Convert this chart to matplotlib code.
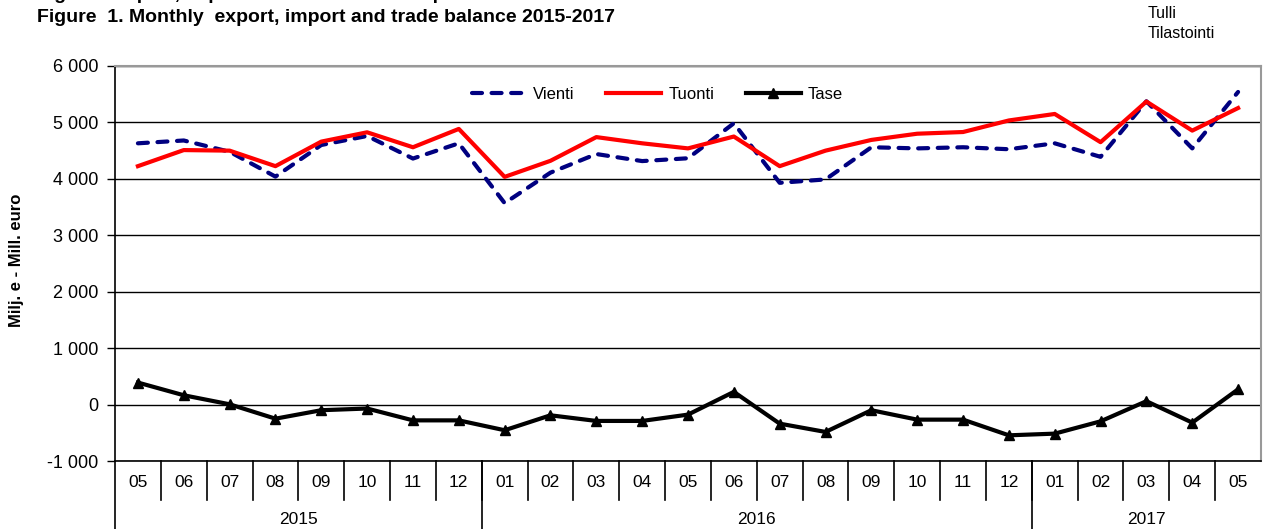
import matplotlib
matplotlib.use('Agg')
import matplotlib.pyplot as plt
from matplotlib.ticker import FuncFormatter

plt.rcParams['font.family'] = ['Liberation Sans', 'DejaVu Sans']

# kuukaudet 05/2015 - 05/2017
months = ['05', '06', '07', '08', '09', '10', '11', '12',
          '01', '02', '03', '04', '05', '06', '07', '08', '09', '10', '11', '12',
          '01', '02', '03', '04', '05']
years = ['2015', '2016', '2017']
year_counts = [8, 12, 5]

vienti = [4630, 4680, 4480, 4040, 4600, 4760, 4360, 4630,
          3570, 4110, 4440, 4315, 4365, 4985, 3930, 3990, 4560, 4540, 4560, 4525,
          4630, 4390, 5375, 4540, 5540]
tuonti = [4225, 4510, 4500, 4225, 4660, 4825, 4560, 4885,
          4035, 4320, 4740, 4630, 4540, 4750, 4225, 4500, 4690, 4800, 4830, 5035,
          5150, 4650, 5370, 4855, 5255]
tase = [390, 165, 5, -250, -100, -70, -280, -280,
        -455, -190, -290, -290, -178, 225, -338, -485, -100, -267, -267, -545,
        -515, -297, 60, -320, 270]

fig = plt.figure(figsize=(12.63, 5.29), dpi=100)
W, H = 1263, 529
ax = fig.add_axes([115 / W, 1 - 461 / H, (1261 - 115) / W, (461 - 66) / H])

x = list(range(len(months)))
ax.plot(x, vienti, color='#000080', lw=3.0, linestyle=(0, (2.4, 2.3)),
        dash_capstyle='round', label='Vienti')
ax.plot(x, tuonti, color='#ff0000', lw=3.0, label='Tuonti')
ax.plot(x, tase, color='black', lw=3.0, marker='^', markersize=7, label='Tase')

ax.set_xlim(-0.5, len(months) - 0.5)
ax.set_ylim(-1000, 6000)
ax.set_yticks(range(-1000, 6001, 1000))
ax.yaxis.set_major_formatter(FuncFormatter(lambda v, p: f'{int(v):,}'.replace(',', ' ')))
ax.tick_params(axis='y', labelsize=13, length=6, width=1, pad=6)
ax.set_xticks([])
ax.grid(axis='y', color='black', lw=1)
ax.set_axisbelow(True)

for s in ['top', 'right']:
    ax.spines[s].set_color('#999999')
    ax.spines[s].set_linewidth(1.5)
ax.spines['left'].set_linewidth(1.2)
ax.spines['bottom'].set_linewidth(1.2)

# kategoria-akseli: kuukaudet ja vuodet
tr = ax.get_xaxis_transform()
row1 = -0.099
row_bottom = -0.18
for i, m in enumerate(months):
    ax.text(i, -0.055, m, transform=tr, ha='center', va='center', fontsize=12.5)
    if i < len(months) - 1:
        ax.plot([i + 0.5, i + 0.5], [0, row1], transform=tr, color='black', lw=1.2, clip_on=False)
ax.plot([-0.5, -0.5], [0, row_bottom], transform=tr, color='black', lw=1.2, clip_on=False)
start = 0
for y, n in zip(years, year_counts):
    ax.text(start + (n - 1) / 2, -0.148, y, transform=tr, ha='center', va='center', fontsize=12.5)
    start += n
    if start < len(months):
        ax.plot([start - 0.5, start - 0.5], [0, row_bottom], transform=tr, color='black', lw=1.2, clip_on=False)

leg = ax.legend(loc='center', bbox_to_anchor=(0.473, 0.929), ncol=3, frameon=False,
                fontsize=12, handlelength=3.3, columnspacing=1.9, handletextpad=0.4)

fig.text(17 / W, 1 - 260 / H, 'Milj. e - Mill. euro', rotation=90, ha='center', va='center',
         fontsize=12, fontweight='bold')
fig.text(37 / W, 1 + 1 / H, 'Figur 1. Export, import och handelsbalans per månad 2015-2017',
         ha='left', va='baseline', fontsize=14, fontweight='bold')
fig.text(37 / W, 1 - 17 / H, 'Figure  1. Monthly  export, import and trade balance 2015-2017',
         ha='left', va='center', fontsize=14, fontweight='bold')
fig.text(1148 / W, 1 - 14 / H, 'Tulli', ha='left', va='center', fontsize=11.5)
fig.text(1148 / W, 1 - 34 / H, 'Tilastointi', ha='left', va='center', fontsize=11.5)

fig.savefig('out.png', dpi=100)
